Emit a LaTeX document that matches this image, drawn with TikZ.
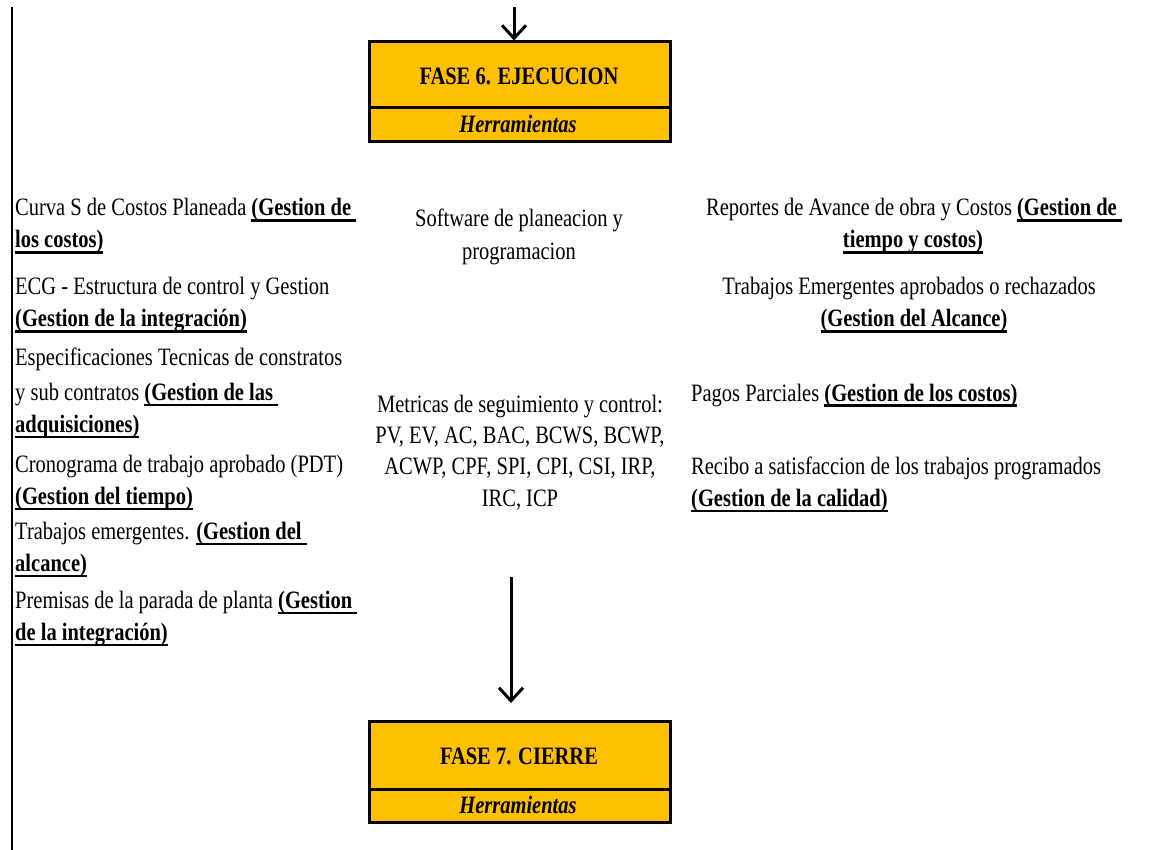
\documentclass[tikz,border=0pt]{standalone}
\usepackage{fontspec}
\setmainfont{Liberation Serif}[FakeStretch=0.82]
\usetikzlibrary{arrows.meta}
\definecolor{phasefill}{RGB}{255,192,0}
% bold, underlined management area (the rule also runs under a trailing space)
\newcommand\gul[1]{\setbox0\hbox{\bfseries #1}\rlap{\rule[-6pt]{\wd0}{2.5pt}}\box0}
\begin{document}
\begin{tikzpicture}[x=1pt,y=-1pt,
  txt/.style={inner sep=0pt, font=\fontsize{25}{30}\selectfont},
  lft/.style={txt, anchor=base west},
  ctr/.style={txt, anchor=base},
  phasebox/.style={draw=black, line width=3pt, fill=phasefill, minimum width=301pt, inner sep=0pt},
  flow/.style={line width=3pt, -{Straight Barb[length=13pt,width=24pt]}}]
\path[use as bounding box] (0,0) rectangle (1149,850);

% left rail
\coordinate (railtop) at (12,7);
\coordinate (railbot) at (12,850);
\draw[line width=2.5pt] (railtop) -- (railbot);

% phase 6
\node[phasebox, minimum height=66pt] (f6) at (519.5,75) {};
\node[phasebox, minimum height=34pt] (f6t) at (519.5,125) {};
\node[ctr] (f6name) at (519,85) {\bfseries FASE 6. EJECUCION};
\node[ctr] (f6tool) at (518,133) {\bfseries\itshape Herramientas};

% phase 7
\node[phasebox, minimum height=68pt] (f7) at (519.5,755) {};
\node[phasebox, minimum height=33pt] (f7t) at (519.5,805.5) {};
\node[ctr] (f7name) at (519,764) {\bfseries FASE 7. CIERRE};
\node[ctr] (f7tool) at (518,813) {\bfseries\itshape Herramientas};

% flow arrows
\coordinate (inflow) at (514,7);
\draw[flow] (inflow) -- (inflow |- f6.north);
\coordinate (midtop) at (511,577);
\coordinate (midend) at (511,703);
\draw[flow] (midtop) -- (midend);

% left column
\node[lft] (l1)  at (15,216) {Curva S de Costos Planeada \gul{(Gestion de }};
\node[lft] (l2)  at (15,248) {\gul{los costos)}};
\node[lft] (l3)  at (15,295) {ECG - Estructura de control y Gestion};
\node[lft] (l4)  at (15,327) {\gul{(Gestion de la integración)}};
\node[lft] (l5)  at (15,366) {Especificaciones Tecnicas de constratos};
\node[lft] (l6)  at (15,400) {y sub contratos \gul{(Gestion de las }};
\node[lft] (l7)  at (15,432) {\gul{adquisiciones)}};
\node[lft] (l8)  at (15,472) {Cronograma de trabajo aprobado (PDT)};
\node[lft] (l9)  at (15,504) {\gul{(Gestion del tiempo)}};
\node[lft] (l10) at (15,539) {Trabajos emergentes. \gul{(Gestion del }};
\node[lft] (l11) at (15,571) {\gul{alcance)}};
\node[lft] (l12) at (15,608) {Premisas de la parada de planta \gul{(Gestion }};
\node[lft] (l13) at (15,640) {\gul{de la integración)}};

% middle column
\node[ctr] (m1) at (519,227) {Software de planeacion y};
\node[ctr] (m2) at (519,260) {programacion};
\node[ctr] (m3) at (520,412) {Metricas de seguimiento y control:};
\node[ctr] (m4) at (520,443) {PV, EV, AC, BAC, BCWS, BCWP,};
\node[ctr] (m5) at (520,474) {ACWP, CPF, SPI, CPI, CSI, IRP,};
\node[ctr] (m6) at (520,506) {IRC, ICP};

% right column
\node[ctr] (r1) at (914,216) {Reportes de Avance de obra y Costos \gul{(Gestion de }};
\node[ctr] (r2) at (913,248) {\gul{tiempo y costos)}};
\node[ctr] (r3) at (909,295) {Trabajos Emergentes aprobados o rechazados};
\node[ctr] (r4) at (914,327) {\gul{(Gestion del Alcance)}};
\node[lft] (r5) at (691,401) {Pagos Parciales \gul{(Gestion de los costos)}};
\node[lft] (r6) at (691,474) {Recibo a satisfaccion de los trabajos programados};
\node[lft] (r7) at (691,506) {\gul{(Gestion de la calidad)}};
\end{tikzpicture}
\end{document}
